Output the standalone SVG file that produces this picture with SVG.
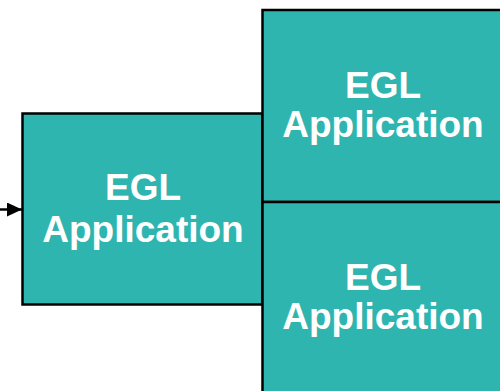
<svg xmlns="http://www.w3.org/2000/svg" width="500" height="391" viewBox="0 0 500 391">
<style>
.box{fill:#2FB5B0;stroke:#000;stroke-width:2.5}
.lbl{font-family:"Liberation Sans",Arial,sans-serif;font-weight:bold;font-size:37px;fill:#fff;text-anchor:middle}
</style>
<defs>
<marker id="ah" markerWidth="15" markerHeight="14" refX="15" refY="7" orient="auto" markerUnits="userSpaceOnUse">
<path d="M0,0 L15,7 L0,14 Z" fill="#000"/>
</marker>
</defs>
<g id="connectors">
<line x1="0" y1="209.5" x2="22" y2="209.5" stroke="#000" stroke-width="2.5" marker-end="url(#ah)"/>
</g>
<g id="node-left">
<rect class="box" x="22.5" y="113.5" width="240" height="191"/>
<text class="lbl" x="143" y="200">EGL</text>
<text class="lbl" x="143" y="242">Application</text>
</g>
<g id="node-top">
<rect class="box" x="262.5" y="10" width="245" height="192"/>
<text class="lbl" x="383" y="98">EGL</text>
<text class="lbl" x="383" y="137">Application</text>
</g>
<g id="node-bottom">
<rect class="box" x="262.5" y="202" width="245" height="195"/>
<text class="lbl" x="383" y="290">EGL</text>
<text class="lbl" x="383" y="329">Application</text>
</g>
</svg>
